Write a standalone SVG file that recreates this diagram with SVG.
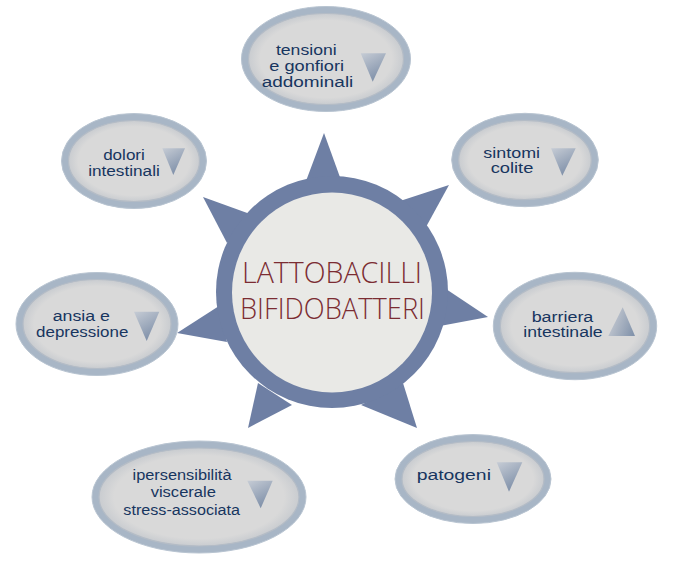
<svg xmlns="http://www.w3.org/2000/svg" width="679" height="576" viewBox="0 0 679 576">
<defs>
<linearGradient id="gDown" x1="0" y1="0" x2="0.5" y2="1">
<stop offset="0" stop-color="#c6ccd5"/>
<stop offset="1" stop-color="#7f90a9"/>
</linearGradient>
<linearGradient id="gUp" x1="0" y1="0.4" x2="1" y2="0.8">
<stop offset="0" stop-color="#c8ccd3"/>
<stop offset="1" stop-color="#8293ab"/>
</linearGradient>
<radialGradient id="gIn" cx="0.5" cy="0.5" r="0.5">
<stop offset="0.85" stop-color="#d9d9d9"/>
<stop offset="1" stop-color="#c9ccd0"/>
</radialGradient>
</defs>
<style>
.ring{fill:#a8b6c6;stroke:#b8c4d1;stroke-width:1}
.in{fill:url(#gIn);stroke:#b4bcc6;stroke-width:1.2}
.t{font-family:"Liberation Sans",Arial,sans-serif;font-size:14px;fill:#17355f;text-anchor:middle}
.dn{fill:url(#gDown)}
.up{fill:url(#gUp)}
.star{fill:#6e7fa4}
.ct{font-family:"Open Sans","Liberation Sans",sans-serif;font-weight:300;font-size:29px;fill:#7b2c32;text-anchor:middle}
</style>
<rect width="679" height="576" fill="#ffffff"/>
<g id="connectors"/>
<g id="center">
<polygon class="star" points="306,181 324,133 341,180"/>
<polygon class="star" points="400,201 449,185 426,227"/>
<polygon class="star" points="446,289 488,317 440,326"/>
<polygon class="star" points="403,383 417,428 361,405"/>
<polygon class="star" points="292,405 248,428 258,383"/>
<polygon class="star" points="219,306 177,333 227,342"/>
<polygon class="star" points="250,214 203,197 227,243"/>
<circle class="star" cx="332" cy="292" r="116"/>
<circle cx="332" cy="292.5" r="100" fill="#e9e9e6"/>
<text class="ct" x="332" y="283.3" textLength="180" lengthAdjust="spacingAndGlyphs">LATTOBACILLI</text>
<text class="ct" x="332.5" y="319.3" textLength="185" lengthAdjust="spacingAndGlyphs">BIFIDOBATTERI</text>
</g>
<g id="n-tensioni">
<ellipse class="ring" cx="326" cy="59" rx="84.5" ry="52.5"/>
<ellipse class="in" cx="326" cy="59" rx="77.5" ry="45.5"/>
<text class="t" x="306.3" y="55" textLength="60.7" lengthAdjust="spacingAndGlyphs">tensioni</text>
<text class="t" x="306.7" y="70.7" textLength="74.7" lengthAdjust="spacingAndGlyphs">e gonfiori</text>
<text class="t" x="307.5" y="87.3" textLength="91.7" lengthAdjust="spacingAndGlyphs">addominali</text>
<polygon class="dn" points="360.7,53.3 386,53.3 372.7,81.7"/>
</g>
<g id="n-sintomi">
<ellipse class="ring" cx="525" cy="160" rx="73.3" ry="46.7"/>
<ellipse class="in" cx="525" cy="160" rx="66.3" ry="39.7"/>
<text class="t" x="511.7" y="157.7" textLength="56.7" lengthAdjust="spacingAndGlyphs">sintomi</text>
<text class="t" x="512" y="173.3" textLength="42.7" lengthAdjust="spacingAndGlyphs">colite</text>
<polygon class="dn" points="551,148.3 575.7,148.3 562.3,175.7"/>
</g>
<g id="n-barriera">
<ellipse class="ring" cx="575" cy="326" rx="81.7" ry="53.7"/>
<ellipse class="in" cx="575" cy="326" rx="74.7" ry="46.7"/>
<text class="t" x="562.5" y="321.5" textLength="61.7" lengthAdjust="spacingAndGlyphs">barriera</text>
<text class="t" x="563" y="337" textLength="79.3" lengthAdjust="spacingAndGlyphs">intestinale</text>
<polygon class="up" points="622.7,307.3 635,336 608.3,336"/>
</g>
<g id="n-patogeni">
<ellipse class="ring" cx="473" cy="479" rx="78" ry="44.5"/>
<ellipse class="in" cx="473" cy="479" rx="71" ry="37.5"/>
<text class="t" x="453.8" y="480" textLength="74.3" lengthAdjust="spacingAndGlyphs">patogeni</text>
<polygon class="dn" points="496.7,462.3 522.3,462.3 509,491.7"/>
</g>
<g id="n-ipersensibilita">
<ellipse class="ring" cx="199" cy="497" rx="107" ry="56"/>
<ellipse class="in" cx="199" cy="497" rx="100" ry="49"/>
<text class="t" x="182" y="480" textLength="99" lengthAdjust="spacingAndGlyphs">ipersensibilità</text>
<text class="t" x="183.3" y="497.3" textLength="65.3" lengthAdjust="spacingAndGlyphs">viscerale</text>
<text class="t" x="181.7" y="515" textLength="116.7" lengthAdjust="spacingAndGlyphs">stress-associata</text>
<polygon class="dn" points="247.3,480.7 272.7,480.7 260.7,508.3"/>
</g>
<g id="n-ansia">
<ellipse class="ring" cx="97" cy="324" rx="81" ry="51.5"/>
<ellipse class="in" cx="97" cy="324" rx="74" ry="44.5"/>
<text class="t" x="81.3" y="321" textLength="57.3" lengthAdjust="spacingAndGlyphs">ansia e</text>
<text class="t" x="82.2" y="336.7" textLength="92.3" lengthAdjust="spacingAndGlyphs">depressione</text>
<polygon class="dn" points="134,311.7 159.3,311.7 146.7,341"/>
</g>
<g id="n-dolori">
<ellipse class="ring" cx="134" cy="161" rx="72.5" ry="47.5"/>
<ellipse class="in" cx="134" cy="161" rx="65.5" ry="40.5"/>
<text class="t" x="124" y="159.5" textLength="41.7" lengthAdjust="spacingAndGlyphs">dolori</text>
<text class="t" x="124" y="175.5" textLength="71.7" lengthAdjust="spacingAndGlyphs">intestinali</text>
<polygon class="dn" points="162.3,148.3 185,148.3 173.3,175"/>
</g>
</svg>
